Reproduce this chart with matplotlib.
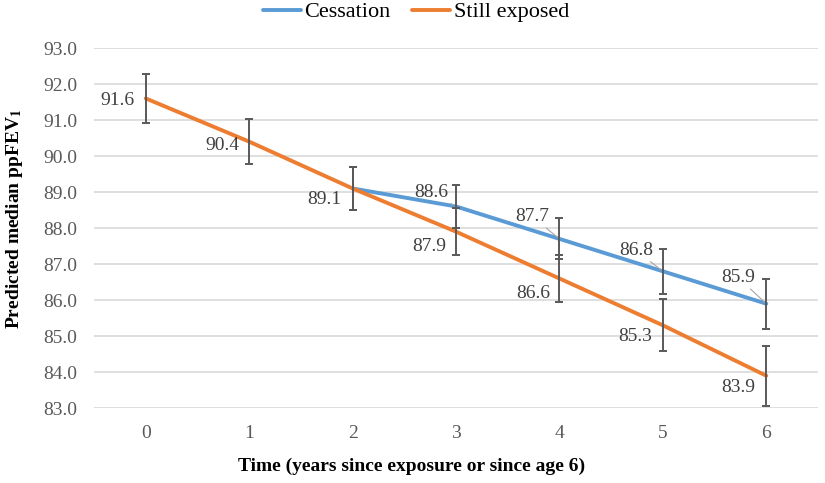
import numpy as np
from matplotlib import pyplot as plt

plt.rcParams["font.family"] = ["Liberation Serif", "DejaVu Serif"]
plt.rcParams["mathtext.fontset"] = "stix"

# data
years = [0, 1, 2, 3, 4, 5, 6]
tick_labels = ["0", "1", "2", "3", "4", "5", "6"]
still_exposed = [91.6, 90.4, 89.1, 87.9, 86.6, 85.3, 83.9]
still_err = [0.68, 0.63, 0.60, 0.65, 0.66, 0.72, 0.83]
cessation = [np.nan, np.nan, 89.1, 88.6, 87.7, 86.8, 85.9]
cess_err = [np.nan, np.nan, 0.60, 0.60, 0.57, 0.62, 0.69]

# label offsets in pixels (dx, dy) relative to the point
still_offsets = [(-11, -2), (-10, -4), (-11, -11), (-10, -15), (-9, -15), (-11, -11), (-11, -12)]
cess_offsets = [None, None, None, (-8, 14), (-10, 22), (-10, 21), (-11, 26)]

blue = "#5B9BD5"
orange = "#ED7D31"
grey_text = "#595959"

fig = plt.figure(figsize=(8.25, 4.83), dpi=100)
ax = fig.add_axes([0.114, 0.155, 0.8775, 0.7456])

ax.plot(years, cessation, color=blue, lw=2.8, label="Cessation", zorder=3,
        solid_capstyle="round")
ax.plot(years, still_exposed, color=orange, lw=2.8, label="Still exposed", zorder=4,
        solid_capstyle="round")

ax.errorbar(years, cessation, yerr=cess_err, fmt="none", ecolor="#595959",
            elinewidth=1.4, capsize=3, capthick=1.4, zorder=5)
ax.errorbar(years, still_exposed, yerr=still_err, fmt="none", ecolor="#595959",
            elinewidth=1.4, capsize=3, capthick=1.4, zorder=5)

for x, y, off in zip(years, still_exposed, still_offsets):
    ax.annotate(f"{y:.1f}", (x, y), xytext=off, textcoords="offset pixels",
                ha="right", va="center", fontsize=14, color="#404040", zorder=6)

for x, y, off in zip(years, cessation, cess_offsets):
    if off is None:
        continue
    ax.annotate(f"{y:.1f}", (x, y), xytext=off, textcoords="offset pixels",
                ha="right", va="center", fontsize=14, color="#404040", zorder=6,
                arrowprops=dict(arrowstyle="-", color="#A6A6A6", lw=0.8,
                                shrinkA=0, shrinkB=2))

ax.set_xlim(-0.5, 6.5)
ax.set_ylim(83, 93)
ax.set_yticks(np.arange(83, 93.1, 1.0))
ax.set_yticklabels([f"{v:.1f}" for v in np.arange(83, 93.1, 1.0)])
ax.set_xticks(years)
ax.set_xticklabels(tick_labels)
ax.tick_params(axis="both", length=0, labelsize=14, labelcolor=grey_text)
ax.tick_params(axis="x", pad=12.5)
ax.tick_params(axis="y", pad=12)

ax.grid(axis="y", color="#D9D9D9", lw=1.2)
ax.set_axisbelow(True)
for s in ax.spines.values():
    s.set_visible(False)

ax.set_xlabel("Time (years since exposure or since age 6)", fontsize=14,
              fontweight="bold")
ax.xaxis.set_label_coords(0.438, -0.137)
ax.set_ylabel(r"Predicted median ppFEV$_\mathbf{1}$", fontsize=14,
              fontweight="bold")
ax.yaxis.set_label_coords(-0.096, 0.525)

fig.legend(loc="center", bbox_to_anchor=(0.504, 0.975), ncol=2, frameon=False,
           fontsize=16, handlelength=1.7, columnspacing=1.0, handletextpad=0.15)

fig.savefig("out.png", dpi=100)
